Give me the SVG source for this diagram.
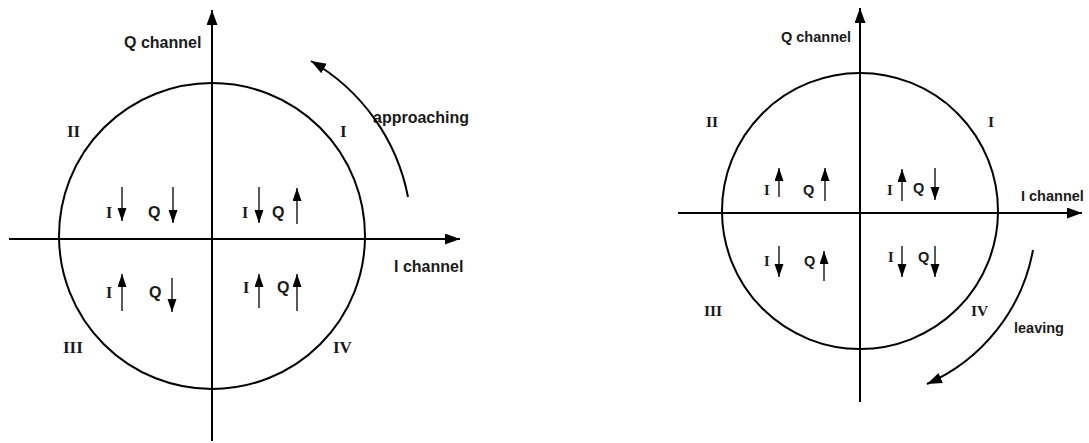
<svg xmlns="http://www.w3.org/2000/svg" width="1089" height="443" viewBox="0 0 1089 443">
<style>
.ax{stroke:#000;stroke-width:2;fill:none}
.circ{stroke:#000;stroke-width:2;fill:none}
.sa{stroke:#000;stroke-width:1.3;fill:none}
.cv{stroke:#000;stroke-width:2;fill:none}
.lab{font-family:"Liberation Sans",Arial,sans-serif;font-weight:bold;fill:#1a1a1a}
.rom{font-family:"Liberation Serif","Times New Roman",serif;font-weight:bold;fill:#1a1a1a}
.L{font-size:16px}
.R{font-size:14.5px}
.N{font-size:17px}
.NR{font-size:15.5px}
</style>
<defs>
<marker id="big" markerUnits="userSpaceOnUse" markerWidth="16" markerHeight="12" refX="15" refY="5.5" orient="auto"><path d="M0,0 L15,5.5 L0,11 z" fill="#000"/></marker>
<marker id="sm" markerUnits="userSpaceOnUse" markerWidth="14" markerHeight="10" refX="13" refY="4.5" orient="auto"><path d="M0,0 L13,4.5 L0,9 z" fill="#000"/></marker>
</defs>

<g id="left-diagram">
<g id="left-circle"><circle class="circ" cx="212" cy="236" r="153"/></g>
<g id="left-axes">
<line class="ax" x1="9" y1="239" x2="460" y2="239" marker-end="url(#big)"/>
<line class="ax" x1="212" y1="441" x2="212" y2="10" marker-end="url(#big)"/>
</g>
<g id="left-labels">
<text class="lab L" x="124" y="48">Q channel</text>
<text class="lab L" x="394" y="272">I channel</text>
<text class="lab L" x="373" y="123">approaching</text>
<text class="rom N" x="67" y="137">II</text>
<text class="rom N" x="340" y="137">I</text>
<text class="rom N" x="63" y="353">III</text>
<text class="rom N" x="333" y="353">IV</text>
</g>
<g id="left-q2">
<text class="rom L" x="106" y="218">I</text>
<text class="lab L" x="148" y="218">Q</text>
</g>
<g id="left-q1">
<text class="rom L" x="242" y="218">I</text>
<text class="lab L" x="272" y="218">Q</text>
</g>
<g id="left-q3">
<text class="rom L" x="106" y="298">I</text>
<text class="lab L" x="149" y="298">Q</text>
</g>
<g id="left-q4">
<text class="rom L" x="243" y="293">I</text>
<text class="lab L" x="277" y="293">Q</text>
</g>
</g>

<g id="right-diagram">
<g id="right-circle"><circle class="circ" cx="860" cy="211" r="138"/></g>
<g id="right-axes">
<line class="ax" x1="678" y1="213" x2="1082" y2="213" marker-end="url(#big)"/>
<line class="ax" x1="860" y1="402" x2="860" y2="8" marker-end="url(#big)"/>
</g>
<g id="right-labels">
<text class="lab R" x="781" y="42">Q channel</text>
<text class="lab R" x="1021" y="201">I channel</text>
<text class="lab R" x="1014" y="333">leaving</text>
<text class="rom NR" x="706" y="127">II</text>
<text class="rom NR" x="988" y="127">I</text>
<text class="rom NR" x="704" y="316">III</text>
<text class="rom NR" x="971" y="316">IV</text>
</g>
<g id="right-q2">
<text class="rom R" x="764" y="195">I</text>
<text class="lab R" x="803" y="195">Q</text>
</g>
<g id="right-q1">
<text class="rom R" x="887" y="195">I</text>
<text class="lab R" x="913" y="193">Q</text>
</g>
<g id="right-q3">
<text class="rom R" x="764" y="266">I</text>
<text class="lab R" x="804" y="266">Q</text>
</g>
<g id="right-q4">
<text class="rom R" x="888" y="262">I</text>
<text class="lab R" x="918" y="262">Q</text>
</g>
</g>

<g id="connectors">
<path class="cv" d="M408,197 A201,201 0 0 0 311,61" marker-end="url(#big)"/>
<path class="cv" d="M1033,250 A182,182 0 0 1 927,384" marker-end="url(#big)"/>
<line class="sa" x1="122" y1="187" x2="122" y2="221" marker-end="url(#sm)"/>
<line class="sa" x1="173" y1="187" x2="173" y2="223" marker-end="url(#sm)"/>
<line class="sa" x1="259" y1="187" x2="259" y2="223" marker-end="url(#sm)"/>
<line class="sa" x1="297" y1="224" x2="297" y2="188" marker-end="url(#sm)"/>
<line class="sa" x1="122" y1="311" x2="122" y2="274" marker-end="url(#sm)"/>
<line class="sa" x1="172" y1="278" x2="172" y2="312" marker-end="url(#sm)"/>
<line class="sa" x1="259" y1="308" x2="259" y2="274" marker-end="url(#sm)"/>
<line class="sa" x1="297" y1="311" x2="297" y2="274" marker-end="url(#sm)"/>
<line class="sa" x1="779" y1="197" x2="779" y2="168" marker-end="url(#sm)"/>
<line class="sa" x1="825" y1="201" x2="825" y2="168" marker-end="url(#sm)"/>
<line class="sa" x1="902" y1="201" x2="902" y2="169" marker-end="url(#sm)"/>
<line class="sa" x1="935" y1="168" x2="935" y2="200" marker-end="url(#sm)"/>
<line class="sa" x1="779" y1="246" x2="779" y2="277" marker-end="url(#sm)"/>
<line class="sa" x1="824" y1="281" x2="824" y2="251" marker-end="url(#sm)"/>
<line class="sa" x1="902" y1="246" x2="902" y2="277" marker-end="url(#sm)"/>
<line class="sa" x1="935" y1="246" x2="935" y2="277" marker-end="url(#sm)"/>
</g>
</svg>
